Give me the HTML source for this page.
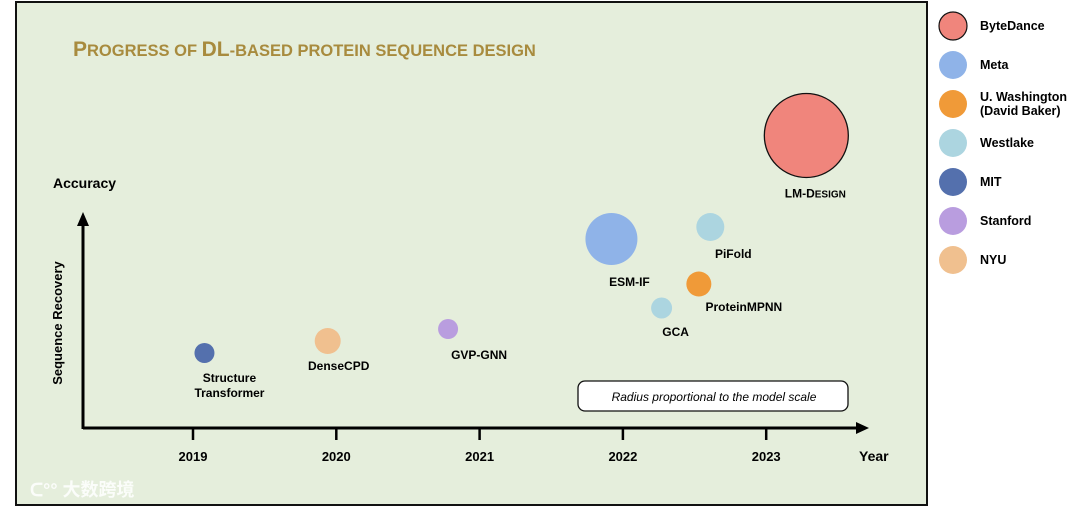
<!DOCTYPE html>
<html><head><meta charset="utf-8"><style>
body{margin:0;background:#fff;width:1080px;height:507px;overflow:hidden;font-family:"Liberation Sans",Arial,sans-serif}
</style></head><body>
<svg id="chart" width="1080" height="507" xmlns="http://www.w3.org/2000/svg" font-family="Liberation Sans, Noto Sans CJK SC, sans-serif">
<rect x="16" y="2" width="911" height="503" fill="#e5eedc" stroke="#111" stroke-width="2"/>
<text x="73" y="56" fill="#a88b3e" font-weight="bold" font-size="21">P<tspan font-size="16.5">ROGRESS OF </tspan>DL<tspan font-size="16.5">-BASED PROTEIN SEQUENCE DESIGN</tspan></text>
<g id="axes"></g>
<g id="marks"></g>
<g id="legend"></g>
<text x="53" y="188" font-weight="bold" font-size="14">Accuracy</text>
<text transform="translate(62,323) rotate(-90)" text-anchor="middle" font-weight="bold" font-size="13">Sequence Recovery</text>
<text x="859" y="461" font-weight="bold" font-size="14">Year</text>
<rect x="578" y="381" width="270" height="30" rx="7" fill="#fff" stroke="#111" stroke-width="1.3"/>
<text x="714" y="401" text-anchor="middle" font-style="italic" font-size="12">Radius proportional to the model scale</text>
<text x="30" y="496" fill="#fff" fill-opacity="0.85" font-size="18" font-weight="bold">ᑕ°° 大数跨境</text>
</svg>
<script>
const models=["Structure Transformer","DenseCPD","GVP-GNN","ESM-IF","GCA","PiFold","ProteinMPNN","LM-Design"];
const years=[2019.08,2019.94,2020.78,2021.92,2022.27,2022.61,2022.53,2023.28];
const recovery=[25,29,33,63,40,67,48,97.5];
const scale=[10,13,10,26,10.5,14,12.5,42];
const orgs=["MIT","NYU","Stanford","Meta","Westlake","Westlake","U. Washington","ByteDance"];
const tickYears=[2019,2020,2021,2022,2023];
const legendOrgs=["ByteDance","Meta","U. Washington","Westlake","MIT","Stanford","NYU"];
const legendLabels=[["ByteDance"],["Meta"],["U. Washington","(David Baker)"],["Westlake"],["MIT"],["Stanford"],["NYU"]];
const colors={"ByteDance":"#f0857c","Meta":"#8fb3e8","U. Washington":"#f09a38","Westlake":"#acd5e0","MIT":"#5470ad","Stanford":"#b99ddf","NYU":"#f0c08f"};
// label offsets (layout only)
const labOff=[[25,29],[11,29],[31,30],[18,47],[14,28],[23,31],[45,27],[9,62]];
const NS="http://www.w3.org/2000/svg";
const xS=y=>193+(y-2019)*143.3;
const yS=v=>428-v*3;
function mk(t,a,p){const e=document.createElementNS(NS,t);for(const k in a)e.setAttribute(k,a[k]);p.appendChild(e);return e;}
const ax=document.getElementById('axes');
let l=mk('line',{x1:83,y1:428,x2:858,y2:428,stroke:'#000','stroke-width':3},ax);


let ar=mk('polygon',{points:'869,428 856,422 856,434',fill:'#000'},ax);


l=mk('line',{x1:83,y1:429,x2:83,y2:224,stroke:'#000','stroke-width':3},ax);


ar=mk('polygon',{points:'83,212 77,226 89,226',fill:'#000'},ax);


tickYears.forEach(y=>{
 const t=mk('line',{x1:xS(y),y1:428,x2:xS(y),y2:440,stroke:'#000','stroke-width':2.5},ax);
 
 
 const tx=mk('text',{x:xS(y),y:461,'text-anchor':'middle','font-weight':'bold','font-size':13},ax);
 tx.textContent=y;
 
 
});
const mg=document.getElementById('marks');
models.forEach((m,i)=>{
 const cx=xS(years[i]),cy=yS(recovery[i]);
 const c=mk('circle',{cx:cx,cy:cy,r:scale[i],fill:colors[orgs[i]]},mg);
 if(orgs[i]==="ByteDance"){c.setAttribute('stroke','#111');c.setAttribute('stroke-width','1.3');}
 
 
 const t=mk('text',{x:cx+labOff[i][0],y:cy+labOff[i][1],'text-anchor':'middle','font-weight':'bold','font-size':12},mg);
 if(m==="Structure Transformer"){
   t.innerHTML='<tspan x="'+(cx+labOff[i][0])+'">Structure</tspan><tspan x="'+(cx+labOff[i][0])+'" dy="15">Transformer</tspan>';
 } else if(m==="LM-Design"){
   t.innerHTML='LM-D<tspan font-size="10">ESIGN</tspan>';
 } else t.textContent=m;
 
 
});
const lg=document.getElementById('legend');
legendOrgs.forEach((o,i)=>{
 const cy=26+i*39;
 const c=mk('circle',{cx:953,cy:cy,r:14,fill:colors[o]},lg);
 if(o==="ByteDance"){c.setAttribute('stroke','#111');c.setAttribute('stroke-width','1.2');}
 
 
 const ls=legendLabels[i];
 const t=mk('text',{x:980,y:cy+4-(ls.length-1)*7,'font-weight':'bold','font-size':12.5},lg);
 t.innerHTML=ls.map((s,k)=>'<tspan x="980" dy="'+(k?14:0)+'">'+s+'</tspan>').join('');
 
 
});
</script>
</body></html>
